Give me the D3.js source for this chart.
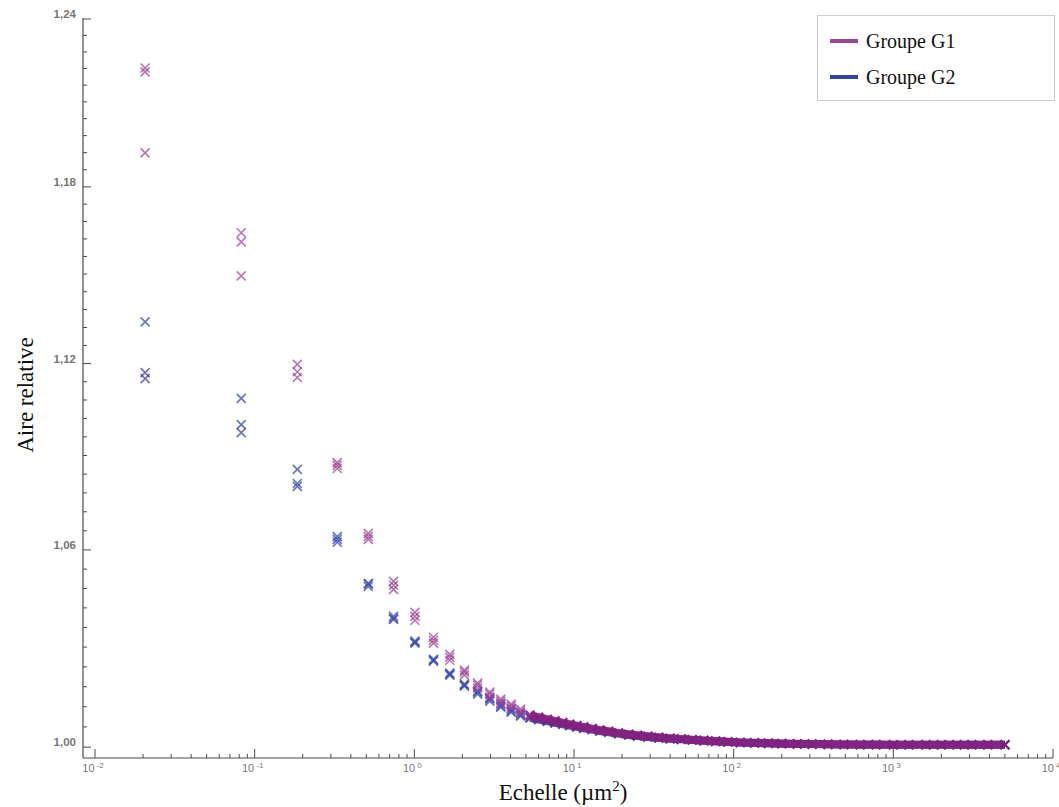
<!DOCTYPE html>
<html><head><meta charset="utf-8">
<script src="https://cdn.jsdelivr.net/npm/d3@7/dist/d3.min.js"></script>
<style>body{margin:0;background:#fff}svg{display:block}</style>
</head><body>
<svg id="chart" width="1059" height="807"></svg>
<script>
// ---- data ----
// Echelle (µm²) of the first, individually readable scales
const scalesHead = [0.0206, 0.0824, 0.185, 0.329, 0.515, 0.741, 1.009, 1.318, 1.668, 2.059, 2.49, 2.97, 3.48, 4.04, 4.63];
// Aire relative, three specimens per group
const g1a = [1.2222, 1.1641, 1.1197, 1.0877, 1.0652, 1.0502, 1.0406, 1.0330, 1.0278, 1.0230, 1.0191, 1.0164, 1.0143, 1.0128, 1.0113];
const g1b = [1.2208, 1.1610, 1.1173, 1.0868, 1.0642, 1.0490, 1.0394, 1.0321, 1.0269, 1.0224, 1.0185, 1.0158, 1.0137, 1.0122, 1.0107];
const g1c = [1.1919, 1.1494, 1.1154, 1.0858, 1.0633, 1.0477, 1.0382, 1.0312, 1.0260, 1.0215, 1.0176, 1.0149, 1.0131, 1.0116, 1.0101];
const g2a = [1.1339, 1.1085, 1.0855, 1.0642, 1.0496, 1.0394, 1.0318, 1.0263, 1.0221, 1.0188, 1.0167, 1.0146, 1.0128, 1.0113, 1.0101];
const g2b = [1.1170, 1.1000, 1.0810, 1.0633, 1.0493, 1.0388, 1.0315, 1.0260, 1.0218, 1.0185, 1.0164, 1.0143, 1.0122, 1.0107, 1.0095];
const g2c = [1.1150, 1.0974, 1.0801, 1.0624, 1.0486, 1.0385, 1.0312, 1.0257, 1.0215, 1.0182, 1.0158, 1.0137, 1.0119, 1.0104, 1.0092];
// dense tail (markers merge into a band)
const scalesTail = [5.3, 6.0, 6.8, 7.6, 8.5, 9.4, 10.4, 11.5, 13, 14.5, 16.5, 19, 22, 25, 29, 34, 40, 47, 55, 65, 77, 92, 110, 135, 165, 200, 250, 310, 390, 490, 620, 780, 1000, 1250, 1600, 2000, 2500, 3100, 3900, 5000];
const g1Tail = [1.0095, 1.0089, 1.0083, 1.0078, 1.0073, 1.0068, 1.0064, 1.0060, 1.0055, 1.0051, 1.0047, 1.0042, 1.0038, 1.0035, 1.0032, 1.0029, 1.0026, 1.0024, 1.0022, 1.0020, 1.0018, 1.0016, 1.0014, 1.0013, 1.0012, 1.0011, 1.0010, 1.0009, 1.0009, 1.0008, 1.0008, 1.0008, 1.0007, 1.0007, 1.0007, 1.0007, 1.0007, 1.0007, 1.0007, 1.0007];
const g2Tail = [1.0087, 1.0082, 1.0077, 1.0072, 1.0068, 1.0064, 1.0060, 1.0056, 1.0052, 1.0048, 1.0044, 1.0040, 1.0036, 1.0033, 1.0030, 1.0027, 1.0025, 1.0023, 1.0021, 1.0019, 1.0017, 1.0015, 1.0014, 1.0012, 1.0011, 1.0010, 1.0009, 1.0009, 1.0008, 1.0008, 1.0007, 1.0007, 1.0007, 1.0007, 1.0007, 1.0007, 1.0007, 1.0007, 1.0007, 1.0007];
const yTickValues = [1.00, 1.06, 1.12, 1.18, 1.24];
const xTickValues = [0.01, 0.1, 1, 10, 100, 1000, 10000];
const legendLabels = ["Groupe G1", "Groupe G2"];

// ---- layout ----
const colors = {G1: "#9a3c93", G2: "#3a48ad", G1tail: "#861f80", G2tail: "#3d3aa0"};
const svg = d3.select("#chart");
const x = d3.scaleLog().domain([0.01, 10000]).range([95, 1053]);
const y = d3.scaleLog().domain([0.9968, 1.24]).range([758, 19]);
const axisX0 = 83, axisY0 = 758;
const axisColor = "#4a4a4a";
const frLocale = d3.formatLocale({decimal: ",", thousands: " ", grouping: [3], currency: ["", "€"]});
const fmt = frLocale.format(".2f");

// y axis
svg.append("line").attr("x1", axisX0).attr("x2", axisX0).attr("y1", y(1.24) - 1).attr("y2", axisY0)
  .attr("stroke", axisColor).attr("stroke-width", 1.2);
const yMinor = d3.range(0, 41).map(i => +(1.0 + i * 0.006).toFixed(3));
svg.append("g").selectAll("line").data(yMinor).join("line")
  .attr("x1", axisX0).attr("x2", d => axisX0 + (yTickValues.some(t => Math.abs(t - d) < 1e-9) ? 8 : 4))
  .attr("y1", d => y(d)).attr("y2", d => y(d))
  .attr("stroke", axisColor).attr("stroke-width", 1);
svg.append("g").selectAll("text").data(yTickValues).join("text")
  .attr("x", axisX0 - 7).attr("y", d => y(d) - 1)
  .attr("text-anchor", "end").attr("font-family", "Liberation Sans, Arial, sans-serif")
  .attr("font-size", 11.5).attr("fill", "#555").attr("font-weight", "bold").attr("opacity", 0.8)
  .text(d => fmt(d));

// x axis
svg.append("line").attr("x1", axisX0).attr("x2", x(10000)).attr("y1", axisY0).attr("y2", axisY0)
  .attr("stroke", axisColor).attr("stroke-width", 1.2);
const xMinor = [];
for (let e = -2; e < 4; e++) for (let m = 2; m <= 9; m++) xMinor.push(m * Math.pow(10, e));
svg.append("g").selectAll("line").data(xMinor).join("line")
  .attr("x1", d => x(d)).attr("x2", d => x(d)).attr("y1", axisY0).attr("y2", axisY0 - 4)
  .attr("stroke", axisColor).attr("stroke-width", 1);
svg.append("g").selectAll("line").data(xTickValues).join("line")
  .attr("x1", d => x(d)).attr("x2", d => x(d)).attr("y1", axisY0).attr("y2", axisY0 - 9)
  .attr("stroke", axisColor).attr("stroke-width", 1);
const xt = svg.append("g").selectAll("text").data(xTickValues).join("text")
  .attr("x", d => x(d) - 2).attr("y", axisY0 + 14)
  .attr("text-anchor", "middle").attr("font-family", "Liberation Sans, Arial, sans-serif")
  .attr("font-size", 11).attr("fill", "#555").attr("opacity", 0.8);
xt.append("tspan").text("10");
xt.append("tspan").attr("dy", -4).attr("font-size", 8).attr("dx", 2).text(d => String(Math.round(Math.log10(d))));

// axis titles
svg.append("text").attr("x", 563).attr("y", 800).attr("text-anchor", "middle")
  .attr("font-family", "Liberation Serif, Times New Roman, serif").attr("font-size", 23).attr("fill", "#111")
  .call(t => { t.append("tspan").text("Echelle (µm"); t.append("tspan").attr("dy", -9).attr("font-size", 15).text("2");
               t.append("tspan").attr("dy", 9).text(")"); });
svg.append("text").attr("transform", "translate(33,395) rotate(-90)").attr("text-anchor", "middle")
  .attr("font-family", "Liberation Serif, Times New Roman, serif").attr("font-size", 23).attr("fill", "#111")
  .text("Aire relative");

// ---- marks ----
const cross = "M-4.5,-4.5L4.5,4.5M-4.5,4.5L4.5,-4.5";
const plot = svg.append("g");
function tailBand(vals, color, op) {
  const pts = scalesTail.map((s, i) => [s, vals[i]]);
  plot.append("path").datum(pts)
    .attr("d", d3.line().x(d => x(d[0])).y(d => y(d[1])))
    .attr("fill", "none").attr("stroke", color).attr("stroke-width", 8).attr("opacity", op);
  plot.append("g").selectAll("path").data(pts).join("path")
    .attr("transform", d => `translate(${x(d[0])},${y(d[1])})`).attr("d", cross)
    .attr("stroke", color).attr("stroke-width", 2.2).attr("fill", "none").attr("opacity", op);
}
function headSeries(vals, color, op, sw) {
  plot.append("g").selectAll("path").data(scalesHead.map((s, i) => [s, vals[i]])).join("path")
    .attr("transform", d => `translate(${x(d[0])},${y(d[1])})`).attr("d", cross)
    .attr("stroke", color).attr("stroke-width", sw).attr("fill", "none").attr("opacity", op);
}
tailBand(g2Tail, colors.G2tail, 0.9);
tailBand(g1Tail, colors.G1tail, 0.88);
[g2a, g2b, g2c].forEach(v => headSeries(v, colors.G2, 0.75, 1.7));
[g1a, g1b, g1c].forEach(v => headSeries(v, colors.G1, 0.7, 1.6));

// ---- legend ----
const lg = svg.append("g");
lg.append("rect").attr("x", 817.5).attr("y", 15.5).attr("width", 237).attr("height", 85)
  .attr("fill", "#fff").attr("stroke", "#9a9a9a").attr("stroke-dasharray", "1,1");
legendLabels.forEach((lab, i) => {
  const cy = 41 + i * 36;
  lg.append("line").attr("x1", 830).attr("x2", 858).attr("y1", cy).attr("y2", cy)
    .attr("stroke", i === 0 ? "#9b4a9b" : "#30439f").attr("stroke-width", 4);
  lg.append("text").attr("x", 866).attr("y", cy + 7)
    .attr("font-family", "Liberation Serif, Times New Roman, serif").attr("font-size", 20).attr("fill", "#111")
    .text(lab);
});
</script>
</body></html>
